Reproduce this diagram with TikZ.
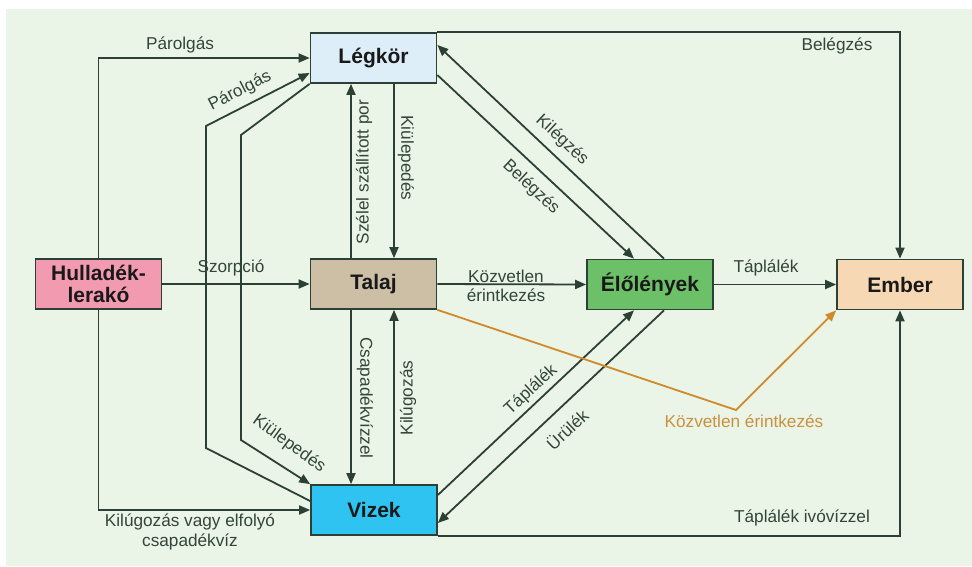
\documentclass[tikz,border=0pt]{standalone}
\usepackage{fontspec}
\setmainfont{Liberation Sans}
\usetikzlibrary{arrows.meta}
\definecolor{bgc}{HTML}{EAF4E7}
\definecolor{linec}{HTML}{2D4035}
\definecolor{labc}{HTML}{34453A}
\definecolor{legc}{HTML}{DDEEF8}
\definecolor{talc}{HTML}{CCBFA6}
\definecolor{hulc}{HTML}{F29AB0}
\definecolor{vizc}{HTML}{2EC3F0}
\definecolor{eloc}{HTML}{6CC067}
\definecolor{embc}{HTML}{F6D9B4}
\definecolor{orc}{HTML}{D08A2A}
\definecolor{ortc}{HTML}{C8923E}
\tikzset{
  box/.style={draw=linec, line width=1.7pt, minimum width=126pt, minimum height=50pt, inner sep=0pt, align=center, text=black!90, font=\fontsize{21}{21.5}\selectfont\bfseries},
  lab/.style={font=\fontsize{17.2}{19.5}\selectfont, text=labc, inner sep=1pt, align=center},
  arr/.style={draw=linec, line width=1.8pt, -{Triangle[length=11pt,width=9pt]}},
  orarr/.style={draw=orc, line width=1.8pt, -{Triangle[length=11pt,width=9pt]}}
}
\begin{document}
\begin{tikzpicture}[x=1pt,y=-1pt]
\useasboundingbox (0,0) rectangle (972,566);
\fill[bgc] (6,9) rectangle (972,566);

% nodes
\node[box, fill=legc] (leg) at (373.5,58) {Légkör};
\node[box, fill=talc] (tal) at (373.5,284) {Talaj};
\node[box, fill=hulc] (hul) at (98.5,284) {Hulladék-\\lerakó};
\node[box, fill=vizc] (viz) at (374,510) {Vizek};
\node[box, fill=eloc] (elo) at (650,284.5) {Élőlények};
\node[box, fill=embc] (emb) at (900,284.5) {Ember};

% helper coordinates
\coordinate (pa1) at (206,448);
\coordinate (pa2) at (206,126);
\coordinate (ki1) at (241,135);
\coordinate (ki2) at (241,440);
\coordinate (ork) at (736,410);

% Hulladék -> Légkör (Párolgás)
\draw[arr] (hul.north) |- (leg.west);
% Vizek -> Légkör (Párolgás)
\draw[arr] ([yshift=9pt]viz.west) -- (pa1) -- (pa2) -- ([yshift=-15pt]leg.west);
% Légkör -> Vizek (Kiülepedés)
\draw[arr] (leg.south west) -- (ki1) -- (ki2) -- (viz.north west);
% Hulladék -> Talaj
\draw[arr] (hul.east) -- (tal.west);
% Hulladék -> Vizek
\draw[arr] (hul.south) |- (viz.west);
% Légkör <-> Talaj
\draw[arr] ([xshift=20.5pt]leg.south) -- ([xshift=20.5pt]tal.north);
\draw[arr] ([xshift=-22.5pt]tal.north) -- ([xshift=-22.5pt]leg.south);
% Talaj <-> Vizek
\draw[arr] ([xshift=-22.5pt]tal.south) -- ([xshift=-22.5pt]tal.south |- viz.north);
\draw[arr] ([xshift=20.5pt]tal.south |- viz.north) -- ([xshift=20.5pt]tal.south);
% Talaj -> Élőlények -> Ember
\draw[arr] (tal.east) -- (elo.west);
\draw[arr] (elo.east) -- (emb.west);
% Légkör -> Ember
\draw[arr] (leg.north east) -| (emb.north);
% Élőlények <-> Légkör
\draw[arr] ([xshift=14pt]elo.north) -- ([yshift=13pt]leg.east);
\draw[arr] ([yshift=-17pt]leg.east) -- ([xshift=-16pt]elo.north);
% Vizek <-> Élőlények
\draw[arr] ([yshift=15pt]viz.east) -- ([xshift=-16pt]elo.south);
\draw[arr] ([xshift=14pt]elo.south) -- ([yshift=-13pt]viz.east);
% Talaj -> Ember (orange)
\draw[orarr] (tal.south east) -- (ork) -- (emb.south west);
% Vizek -> Ember
\draw[arr] (viz.south east) -| (emb.south);

% labels
\node[lab] (l1) at (180,45) {Párolgás};
\node[lab, rotate=27] (l2) at (240,91) {Párolgás};
\node[lab, rotate=-36] (l3) at (289,444) {Kiülepedés};
\node[lab] (l4) at (231,268) {Szorpció};
\node[lab, rotate=-90] (l5) at (406,158) {Kiülepedés};
\node[lab, rotate=90] (l6) at (364,172) {Szélel szállított por};
\node[lab, rotate=-90] (l7) at (365,398) {Csapadékvízzel};
\node[lab, rotate=90] (l8) at (408,398) {Kilúgozás};
\node[lab] (l9) at (190,532) {Kilúgozás vagy elfolyó\\csapadékvíz};
\node[lab] (l10) at (506,286) {Közvetlen\\érintkezés};
\node[lab] (l11) at (766,268) {Táplálék};
\node[lab] (l12) at (837,46) {Belégzés};
\node[lab, rotate=-43] (l13) at (562,140) {Kilégzés};
\node[lab, rotate=-43] (l14) at (531,187) {Belégzés};
\node[lab, rotate=43] (l15) at (531,390) {Táplálék};
\node[lab, rotate=43] (l16) at (567,429) {Ürülék};
\node[lab, text=ortc] (l17) at (744,421) {Közvetlen érintkezés};
\node[lab] (l18) at (802,518) {Táplálék ivóvízzel};
\end{tikzpicture}
\end{document}
